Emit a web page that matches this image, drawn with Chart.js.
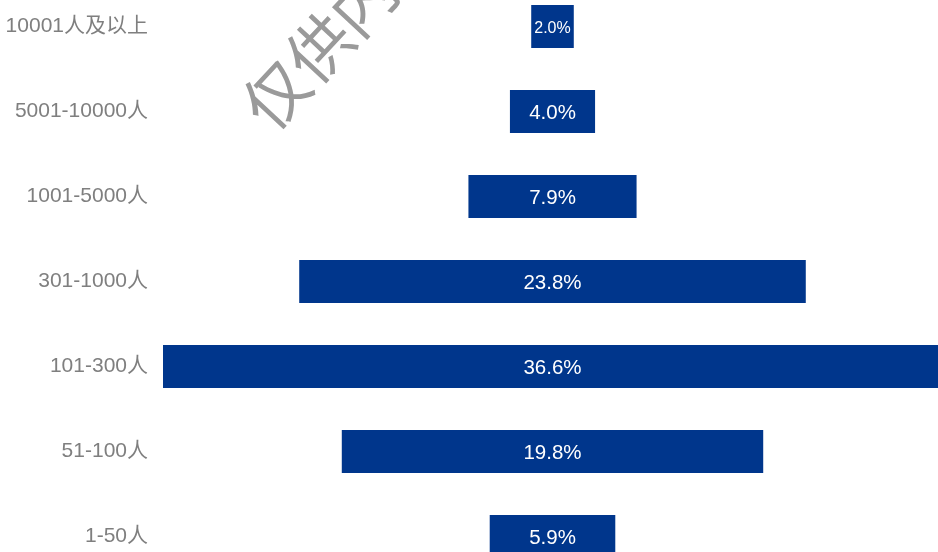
<!DOCTYPE html>
<html>
<head>
<meta charset="utf-8">
<script src="https://cdn.jsdelivr.net/npm/chart.js@4/dist/chart.umd.min.js"></script>
<style>
  html, body { margin: 0; padding: 0; background: #fff; overflow: hidden; width: 938px; height: 552px; }
  #funnelChart { position: absolute; left: 0; top: -16px; }
</style>
</head>
<body>
<canvas id="funnelChart" width="942" height="595"></canvas>
<script>
// 数据
const categories = ['10001人及以上', '5001-10000人', '1001-5000人', '301-1000人', '101-300人', '51-100人', '1-50人'];
const values = [2.0, 4.0, 7.9, 23.8, 36.6, 19.8, 5.9];
const labelSizes = [16, 20.5, 20.5, 20.5, 20.5, 20.5, 20.5];
const watermark = '仅供内部参考';

const FONT = "'Liberation Sans', Arial, 'Noto Sans CJK SC', sans-serif";

// 柱内数值标签
const barLabels = {
    id: 'barLabels',
    afterDatasetsDraw(chart) {
        const ctx = chart.ctx;
        const meta = chart.getDatasetMeta(0);
        ctx.save();
        ctx.fillStyle = '#ffffff';
        ctx.textAlign = 'center';
        ctx.textBaseline = 'middle';
        meta.data.forEach(function(bar, i) {
            ctx.font = labelSizes[i] + 'px ' + FONT;
            ctx.fillText(values[i].toFixed(1) + '%', (bar.x + bar.base) / 2, bar.y + 2);
        });
        ctx.restore();
    }
};

// 水印
const watermarkPlugin = {
    id: 'watermark',
    afterDraw(chart) {
        const ctx = chart.ctx;
        ctx.save();
        ctx.translate(254, 134);
        ctx.rotate(-47 * Math.PI / 180);
        ctx.font = "64px 'Noto Sans CJK SC', sans-serif";
        ctx.fillStyle = '#9a9a9a';
        ctx.textAlign = 'left';
        ctx.textBaseline = 'middle';
        ctx.fillText(watermark, 0, 0);
        ctx.restore();
    }
};

function createFunnelChart() {
    const ctx = document.getElementById('funnelChart').getContext('2d');
    const half = Math.max.apply(null, values) / 2;

    new Chart(ctx, {
        type: 'bar',
        data: {
            labels: categories,
            datasets: [{
                data: values.map(v => [-v / 2, v / 2]),
                backgroundColor: '#00368C',
                borderWidth: 0,
                barPercentage: 0.506,
                categoryPercentage: 1
            }]
        },
        options: {
            indexAxis: 'y',
            responsive: false,
            animation: false,
            layout: { padding: 0 },
            plugins: {
                legend: { display: false },
                tooltip: { enabled: false }
            },
            scales: {
                x: {
                    display: false,
                    min: -half,
                    max: half
                },
                y: {
                    grid: { display: false, drawTicks: false },
                    border: { display: false },
                    ticks: {
                        padding: 15,
                        color: '#7f7f7f',
                        font: { size: 21, family: FONT }
                    },
                    afterFit: function(scale) {
                        scale.width = 163;
                        scale.paddingTop = 0;
                        scale.paddingBottom = 0;
                    }
                }
            }
        },
        plugins: [barLabels, watermarkPlugin]
    });
}

createFunnelChart();
</script>
</body>
</html>
